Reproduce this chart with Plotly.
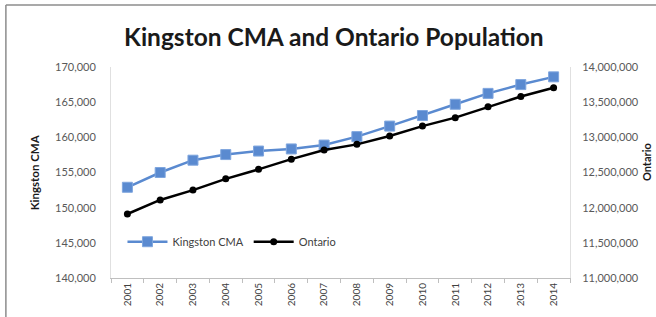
import plotly.graph_objects as go

years = [str(y) for y in range(2001, 2015)]
kingston = [152900, 155000, 156750, 157550, 158050, 158350, 158900,
            160100, 161600, 163100, 164700, 166250, 167500, 168600]
ontario = [11910000, 12110000, 12250000, 12410000, 12545000, 12690000, 12820000,
           12900000, 13020000, 13160000, 13280000, 13435000, 13580000, 13705000]

left_ticks = [140000, 145000, 150000, 155000, 160000, 165000, 170000]
right_ticks = [11000000, 11500000, 12000000, 12500000, 13000000, 13500000, 14000000]

font = "Lato, 'Open Sans', sans-serif"

fig = go.Figure()
fig.add_trace(go.Scatter(
    x=years, y=kingston, name="Kingston CMA", mode="lines+markers",
    line=dict(color="#5A8AD0", width=2.5),
    marker=dict(symbol="square", size=10, color="#5A8AD0",
                line=dict(color="#7FA6DE", width=1)),
    yaxis="y"))
fig.add_trace(go.Scatter(
    x=years, y=ontario, name="Ontario", mode="lines+markers",
    line=dict(color="#000000", width=2.5),
    marker=dict(symbol="circle", size=7, color="#000000"),
    yaxis="y2"))

fig.update_layout(
    width=656, height=317,
    margin=dict(l=111, r=86, t=67, b=39),
    paper_bgcolor="white", plot_bgcolor="white",
    font=dict(family=font, color="#404040", size=11),
    title=dict(text="<b>Kingston CMA and Ontario Population</b>",
               x=0.509, xanchor="center", y=0.882, yanchor="middle",
               font=dict(family=font, size=24.5, color="#1a1a1a")),
    showlegend=True,
    legend=dict(orientation="h", x=0.025, y=0.172, xanchor="left", yanchor="middle",
                bgcolor="rgba(0,0,0,0)", font=dict(size=11, color="#404040"),
                itemwidth=40),
    xaxis=dict(type="category", range=[-0.5, 13.5], tickangle=-90, showline=True,
               linecolor="#BFBFBF", linewidth=1, ticks="outside", tickson="boundaries",
               ticklen=4, tickcolor="#BFBFBF", showgrid=False,
               tickfont=dict(size=10, color="#404040")),
    yaxis=dict(range=[140000, 170000], tickvals=left_ticks, tickformat=",",
               showgrid=False, showline=True, linecolor="#E0E0E0", zeroline=False,
               tickfont=dict(size=11, color="#595959"), ticks="", ticklabelstandoff=12),
    yaxis2=dict(range=[11000000, 14000000], tickvals=right_ticks, tickformat=",",
                overlaying="y", side="right", showgrid=False, showline=True,
                linecolor="#E0E0E0", zeroline=False,
                tickfont=dict(size=11, color="#595959"), ticks="", ticklabelstandoff=9),
    annotations=[
        dict(text="<b>Kingston CMA</b>", xref="paper", yref="paper", x=-0.166, y=0.5,
             xanchor="center", yanchor="middle", textangle=-90, showarrow=False,
             font=dict(size=11.5, color="#1a1a1a")),
        dict(text="<b>Ontario</b>", xref="paper", yref="paper", x=1.168, y=0.55,
             xanchor="center", yanchor="middle", textangle=-90, showarrow=False,
             font=dict(size=11, color="#1a1a1a")),
    ],
)
# frame around chart (left and top edges visible)
fig.add_shape(type="line", xref="paper", yref="paper", x0=-0.229, x1=-0.229, y0=-0.2, y1=1.294,
              line=dict(color="#8C8C8C", width=1.5))
fig.add_shape(type="line", xref="paper", yref="paper", x0=-0.229, x1=1.2, y0=1.294, y1=1.294,
              line=dict(color="#8C8C8C", width=1.5))

fig.write_html("out.html", config={"displayModeBar": False},
               post_script="document.body.style.margin='0';")
